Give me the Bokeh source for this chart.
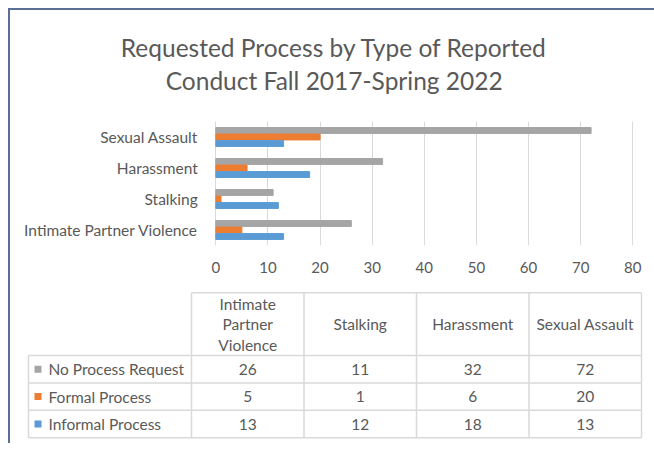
from bokeh.plotting import figure
from bokeh.models import ColumnDataSource, Range1d, FactorRange, FixedTicker
from bokeh.transform import dodge
from bokeh.layouts import column
from bokeh.embed import file_html
from bokeh.resources import INLINE
from bokeh.core.properties import value

# ---------------- data ----------------
title_lines = ["Requested Process by Type of Reported", "Conduct Fall 2017-Spring 2022"]
categories = ["Intimate Partner Violence", "Stalking", "Harassment", "Sexual Assault"]
table_headers = ["Intimate\nPartner\nViolence", "Stalking", "Harassment", "Sexual Assault"]
series_names = ["No Process Request", "Formal Process", "Informal Process"]
series_colors = ["#A5A5A5", "#ED7D31", "#5B9BD5"]
no_process = [26, 11, 32, 72]
formal = [5, 1, 6, 20]
informal = [13, 12, 18, 13]
x_ticks = [0, 10, 20, 30, 40, 50, 60, 70, 80]

FONT = "Lato"
TXT = "#595959"
GRID = "#D9D9D9"
BORDER = "#5B6F95"
W = 634

# ---------------- title ----------------
TH = 106
ft = figure(width=W, height=TH, x_range=Range1d(0, W), y_range=Range1d(TH, 0),
            x_axis_type=None, y_axis_type=None, output_backend="svg",
            toolbar_location=None, min_border=0, title=None)
ft.grid.visible = False
ft.outline_line_color = None
ft.text(x=[W / 2 + 6.7, W / 2 + 6.7], y=[37, 70], text=title_lines,
        text_font=value(FONT), text_font_size="24.5px", text_color=TXT,
        text_align="center", text_baseline="middle")

# ---------------- bar chart ----------------
PX_PER_UNIT = 5.2125      # pixels per value unit
ZERO_PX = 205.3           # pixel offset of value 0 inside the canvas
x_start = -ZERO_PX / PX_PER_UNIT
x_end = x_start + W / PX_PER_UNIT

series = [no_process, formal, informal]
src = ColumnDataSource(dict(cat=categories, s0=no_process, s1=formal, s2=informal))
p = figure(width=W, height=170, y_range=FactorRange(factors=categories),
           x_range=Range1d(x_start, x_end), output_backend="svg", toolbar_location=None,
           y_axis_location=None, min_border_left=0, min_border_right=0,
           min_border_top=5, min_border_bottom=41, title=None)
offsets = [0.21, 0.0, -0.21]
for i, (col, off) in enumerate(zip(series_colors, offsets)):
    p.hbar(y=dodge("cat", off, range=p.y_range), left=0, right="s%d" % i,
           height=0.19, color=col, source=src)
# category labels, placed by the categorical scale
p.text(x=[-18 / PX_PER_UNIT] * len(categories), y=categories, text=categories,
       text_font=value(FONT), text_font_size="15.5px", text_color=TXT,
       text_align="right", text_baseline="middle")
p.outline_line_color = None
p.ygrid.grid_line_color = None
p.xgrid.ticker = FixedTicker(ticks=x_ticks)
p.xgrid.grid_line_color = GRID
p.xaxis.ticker = FixedTicker(ticks=x_ticks)
ax = p.xaxis[0]
ax.axis_line_color = None
ax.major_tick_line_color = None
ax.minor_tick_line_color = None
ax.major_tick_out = 0
ax.major_tick_in = 0
ax.major_label_text_font = FONT
ax.major_label_text_color = TXT
ax.major_label_text_font_size = "15px"
ax.major_label_standoff = 16

# ---------------- data table ----------------
CH = 157
tf = figure(width=W, height=CH, x_range=Range1d(0, W), y_range=Range1d(CH, 0),
            x_axis_type=None, y_axis_type=None, output_backend="svg",
            toolbar_location=None, min_border=0, title=None)
tf.grid.visible = False
tf.outline_line_color = None

leg_left = 18
col_left = 181
col_w = 112.5
head_top = 6.3
head_bot = 69
row_h = 27.4
n_cols = len(categories)
n_rows = len(series_names)
tab_right = col_left + n_cols * col_w
tab_bot = head_bot + n_rows * row_h

x0s, y0s, x1s, y1s = [], [], [], []
x0s.append(col_left); y0s.append(head_top); x1s.append(tab_right); y1s.append(head_top)
for r in range(n_rows + 1):
    y = head_bot + r * row_h
    x0s.append(leg_left); y0s.append(y); x1s.append(tab_right); y1s.append(y)
x0s.append(leg_left); y0s.append(head_bot); x1s.append(leg_left); y1s.append(tab_bot)
for c in range(n_cols + 1):
    x = col_left + c * col_w
    x0s.append(x); y0s.append(head_top); x1s.append(x); y1s.append(tab_bot)
tf.segment(x0=x0s, y0=y0s, x1=x1s, y1=y1s, line_color=GRID, line_width=1.5)

hx = [col_left + (c + 0.5) * col_w for c in range(n_cols)]
hy = [(head_top + head_bot) / 2] * n_cols
tf.text(x=hx, y=hy, text=table_headers, text_font=value(FONT), text_font_size="15.5px",
        text_color=TXT, text_align="center", text_baseline="middle", text_line_height=1.14)

row_y = [head_bot + (r + 0.5) * row_h for r in range(n_rows)]
tf.scatter(x=[27.5] * n_rows, y=row_y, marker="square", size=7,
           color=series_colors, line_color=None)
tf.text(x=[38] * n_rows, y=row_y, text=series_names, text_font=value(FONT),
        text_font_size="15.5px", text_color=TXT, text_align="left", text_baseline="middle")
vx, vy, vt = [], [], []
for r, vals in enumerate(series):
    for c, v in enumerate(vals):
        vx.append(hx[c]); vy.append(row_y[r]); vt.append(str(v))
tf.text(x=vx, y=vy, text=vt, text_font=value(FONT), text_font_size="15.5px",
        text_color=TXT, text_align="center", text_baseline="middle")

layout = column(ft, p, tf, spacing=0,
                styles={"margin-left": "8px", "margin-top": "8px",
                        "padding-right": "10px",
                        "border-left": "2px solid " + BORDER,
                        "border-top": "2px solid " + BORDER})

open("out.html", "w").write(file_html(layout, INLINE))
